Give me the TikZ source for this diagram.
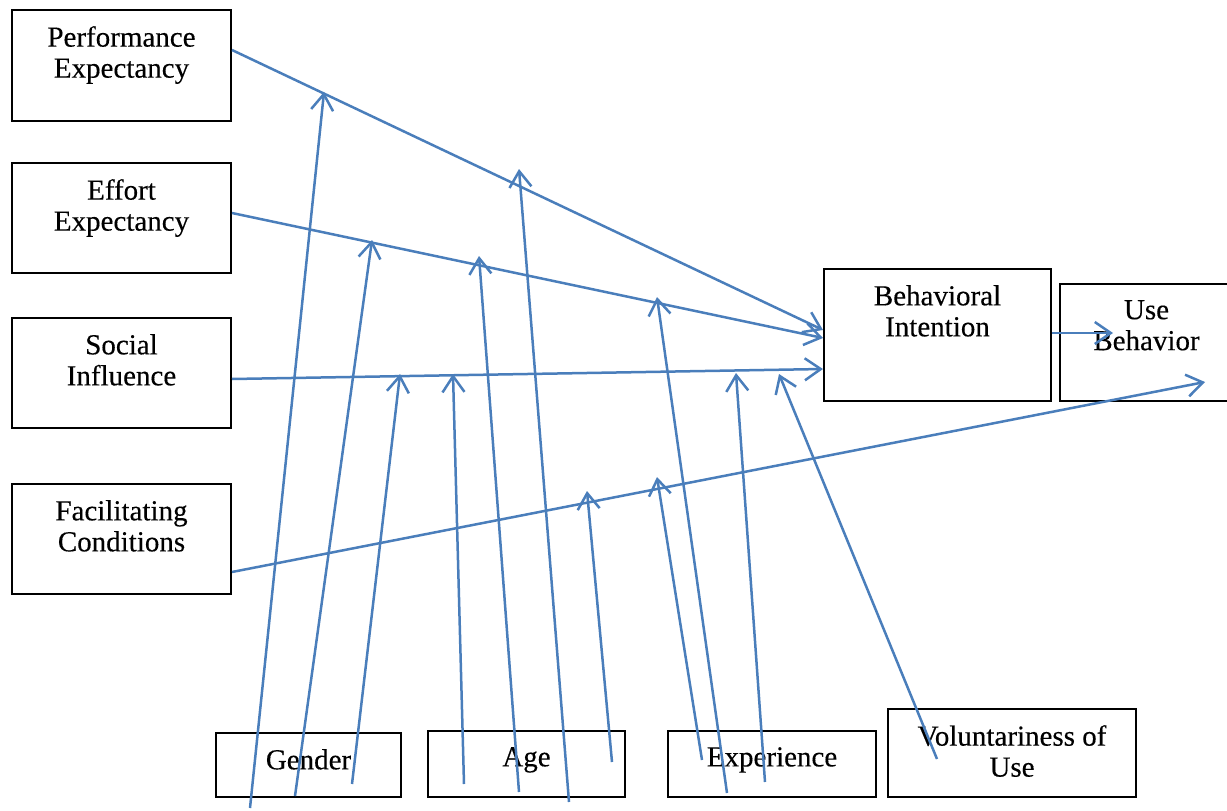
\documentclass[tikz,border=0pt]{standalone}
\usepackage{fontspec}
\setmainfont[FakeBold=0.3]{Liberation Serif}
\usepackage{tikz}
\usetikzlibrary{arrows.meta, positioning}

\definecolor{lineblue}{RGB}{74,126,187}

\begin{document}
\begin{tikzpicture}[
    x=1pt, y=-1pt,
    % GLOBAL CFG
    font=\fontsize{29pt}{31pt}\selectfont,
    >={Straight Barb[length=16pt,width=22pt]},
    % Styles
    construct/.style={% For the boxes
        rectangle,
        draw=black,
        line width=2pt,
        inner sep=0pt,
        },
    boxtext/.style={% Text sits near the top of each box
        anchor=north,
        yshift=-17pt,
        inner sep=0pt,
        align=center,
        },
    ArrowB/.style={% Blue connectors
        draw=lineblue,
        line width=2.5pt,
        },
    ]

    \useasboundingbox (0,0) rectangle (1227,811);

%Start drawing the thing...
    % Draw the constructs on the left
    \node [construct, minimum width=219, minimum height=111,
        label={[boxtext]north:{Performance\\Expectancy}}] (pe) at (121.5,65.5) {};
    \node [construct, minimum width=219, minimum height=110,
        label={[boxtext]north:{Effort\\Expectancy}}] (ee) at (121.5,218) {};
    \node [construct, minimum width=219, minimum height=110,
        label={[boxtext]north:{Social\\Influence}}] (si) at (121.5,373) {};
    \node [construct, minimum width=219, minimum height=110,
        label={[boxtext]north:{Facilitating\\Conditions}}] (fc) at (121.5,539) {};

    % Draw the outcomes
    \node [construct, minimum width=227, minimum height=132,
        label={[boxtext]north:{Behavioral\\Intention}}] (bi) at (937.5,335) {};
    \node [construct, minimum width=173, minimum height=117,
        label={[boxtext]north:{Use\\Behavior}}] (ub) at (1146.5,342.5) {};

    % Draw the moderators
    \node [construct, minimum width=185, minimum height=64,
        label={[boxtext]north:Gender}] (gender) at (308.5,765) {};
    \node [construct, minimum width=197, minimum height=66,
        label={[boxtext]north:Age}] (age) at (526.5,764) {};
    \node [construct, minimum width=208, minimum height=66,
        label={[boxtext]north:Experience}] (exp) at (772,764) {};
    \node [construct, minimum width=248, minimum height=88,
        label={[boxtext]north:{Voluntariness of\\Use}}] (vol) at (1012,753) {};

    % Free ends of the connectors
    \coordinate (biTip) at (1113,333);
    \coordinate (ubTip) at (1205,382);

    % Moderator feet, named g#, a#, x#, v#
    \coordinate (g1) at (250,808);
    \coordinate (g2) at (295,796);
    \coordinate (g3) at (352,784);
    \coordinate (a1) at (464,784);
    \coordinate (a2) at (519,792);
    \coordinate (a3) at (569,802);
    \coordinate (a4) at (612,762);
    \coordinate (x1) at (702,760);
    \coordinate (x2) at (727,793);
    \coordinate (x3) at (765,782);
    \coordinate (v1) at (937,759);

    % Moderator tips, named after the path they point at
    \coordinate (gPE) at (324,92);
    \coordinate (gEE) at (372,240);
    \coordinate (gSI) at (400,374);
    \coordinate (aSI) at (453,374);
    \coordinate (aEE) at (479,256);
    \coordinate (aPE) at (519,169);
    \coordinate (aFC) at (587,491);
    \coordinate (xFC) at (657,477);
    \coordinate (xEE) at (657,297);
    \coordinate (xSI) at (736,373);
    \coordinate (vSI) at (779,374);

% Start connecting all.
    % Main paths
    \draw [->, ArrowB] ([yshift=15.5pt]pe.east) -- ([yshift=5pt]bi.west);
    \draw [->, ArrowB] ([yshift=5pt]ee.east) -- ([yshift=-3pt]bi.west);
    \draw [->, ArrowB] ([yshift=-6pt]si.east) -- ([yshift=-34pt]bi.west);
    \draw [->, ArrowB] ([yshift=-33pt]fc.east) -- (ubTip);
    \draw [->, ArrowB] ([yshift=2pt]bi.east) -- (biTip);

    % Moderating paths
    \foreach \from/\to in {g1/gPE, g2/gEE, g3/gSI,
                           a1/aSI, a2/aEE, a3/aPE, a4/aFC,
                           x1/xFC, x2/xEE, x3/xSI, v1/vSI}
        \draw [->, ArrowB] (\from) -- (\to);

\end{tikzpicture}
\end{document}
